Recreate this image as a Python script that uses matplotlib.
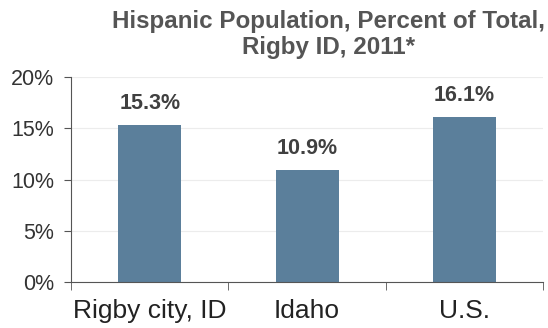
import matplotlib.pyplot as plt
from matplotlib.ticker import FuncFormatter

categories = ['Rigby city, ID', 'Idaho', 'U.S.']
values = [15.3, 10.9, 16.1]
labels = ['15.3%', '10.9%', '16.1%']
yticks = [0, 5, 10, 15, 20]

plt.rcParams['font.family'] = ['Liberation Sans', 'DejaVu Sans']

fig = plt.figure(figsize=(5.48, 3.28), dpi=100)
ax = fig.add_axes([0.1296, 0.1402, 0.8614, 0.6250])

x = range(len(categories))
ax.bar(x, values, width=0.4, color='#5b7f9b', zorder=2)
for i, v in enumerate(values):
    ax.text(i, v + 2.1, labels[i], ha='center', va='center', fontsize=15.5,
            fontweight='bold', color='#404040')

ax.set_xlim(-0.5, len(categories) - 0.5)
ax.set_ylim(0, 20)
ax.set_yticks(yticks)
ax.yaxis.set_major_formatter(FuncFormatter(lambda v, p: '%d%%' % v))
ax.set_xticks(x)
ax.set_xticklabels(categories)
ax.set_xticks([-0.5, 0.5, 1.5, 2.5], minor=True)
ax.tick_params(axis='x', which='major', length=0, labelsize=19, pad=12, colors='#222222')
ax.tick_params(axis='x', which='minor', length=6, direction='out', color='#555555')
ax.tick_params(axis='y', length=5, labelsize=15.5, colors='#333333', pad=7)
ax.tick_params(axis='y', color='#555555')

ax.grid(axis='y', color='#ececec', linewidth=0.8, zorder=0)
for s in ['top', 'right']:
    ax.spines[s].set_visible(False)
ax.spines['left'].set_color('#555555')
ax.spines['bottom'].set_color('#555555')

fig.text(0.60, 0.97, 'Hispanic Population, Percent of Total,\nRigby ID, 2011*',
         ha='center', va='top', fontsize=17.4, fontweight='bold', color='#555555',
         linespacing=1.2)

fig.savefig('out.png', dpi=100)
